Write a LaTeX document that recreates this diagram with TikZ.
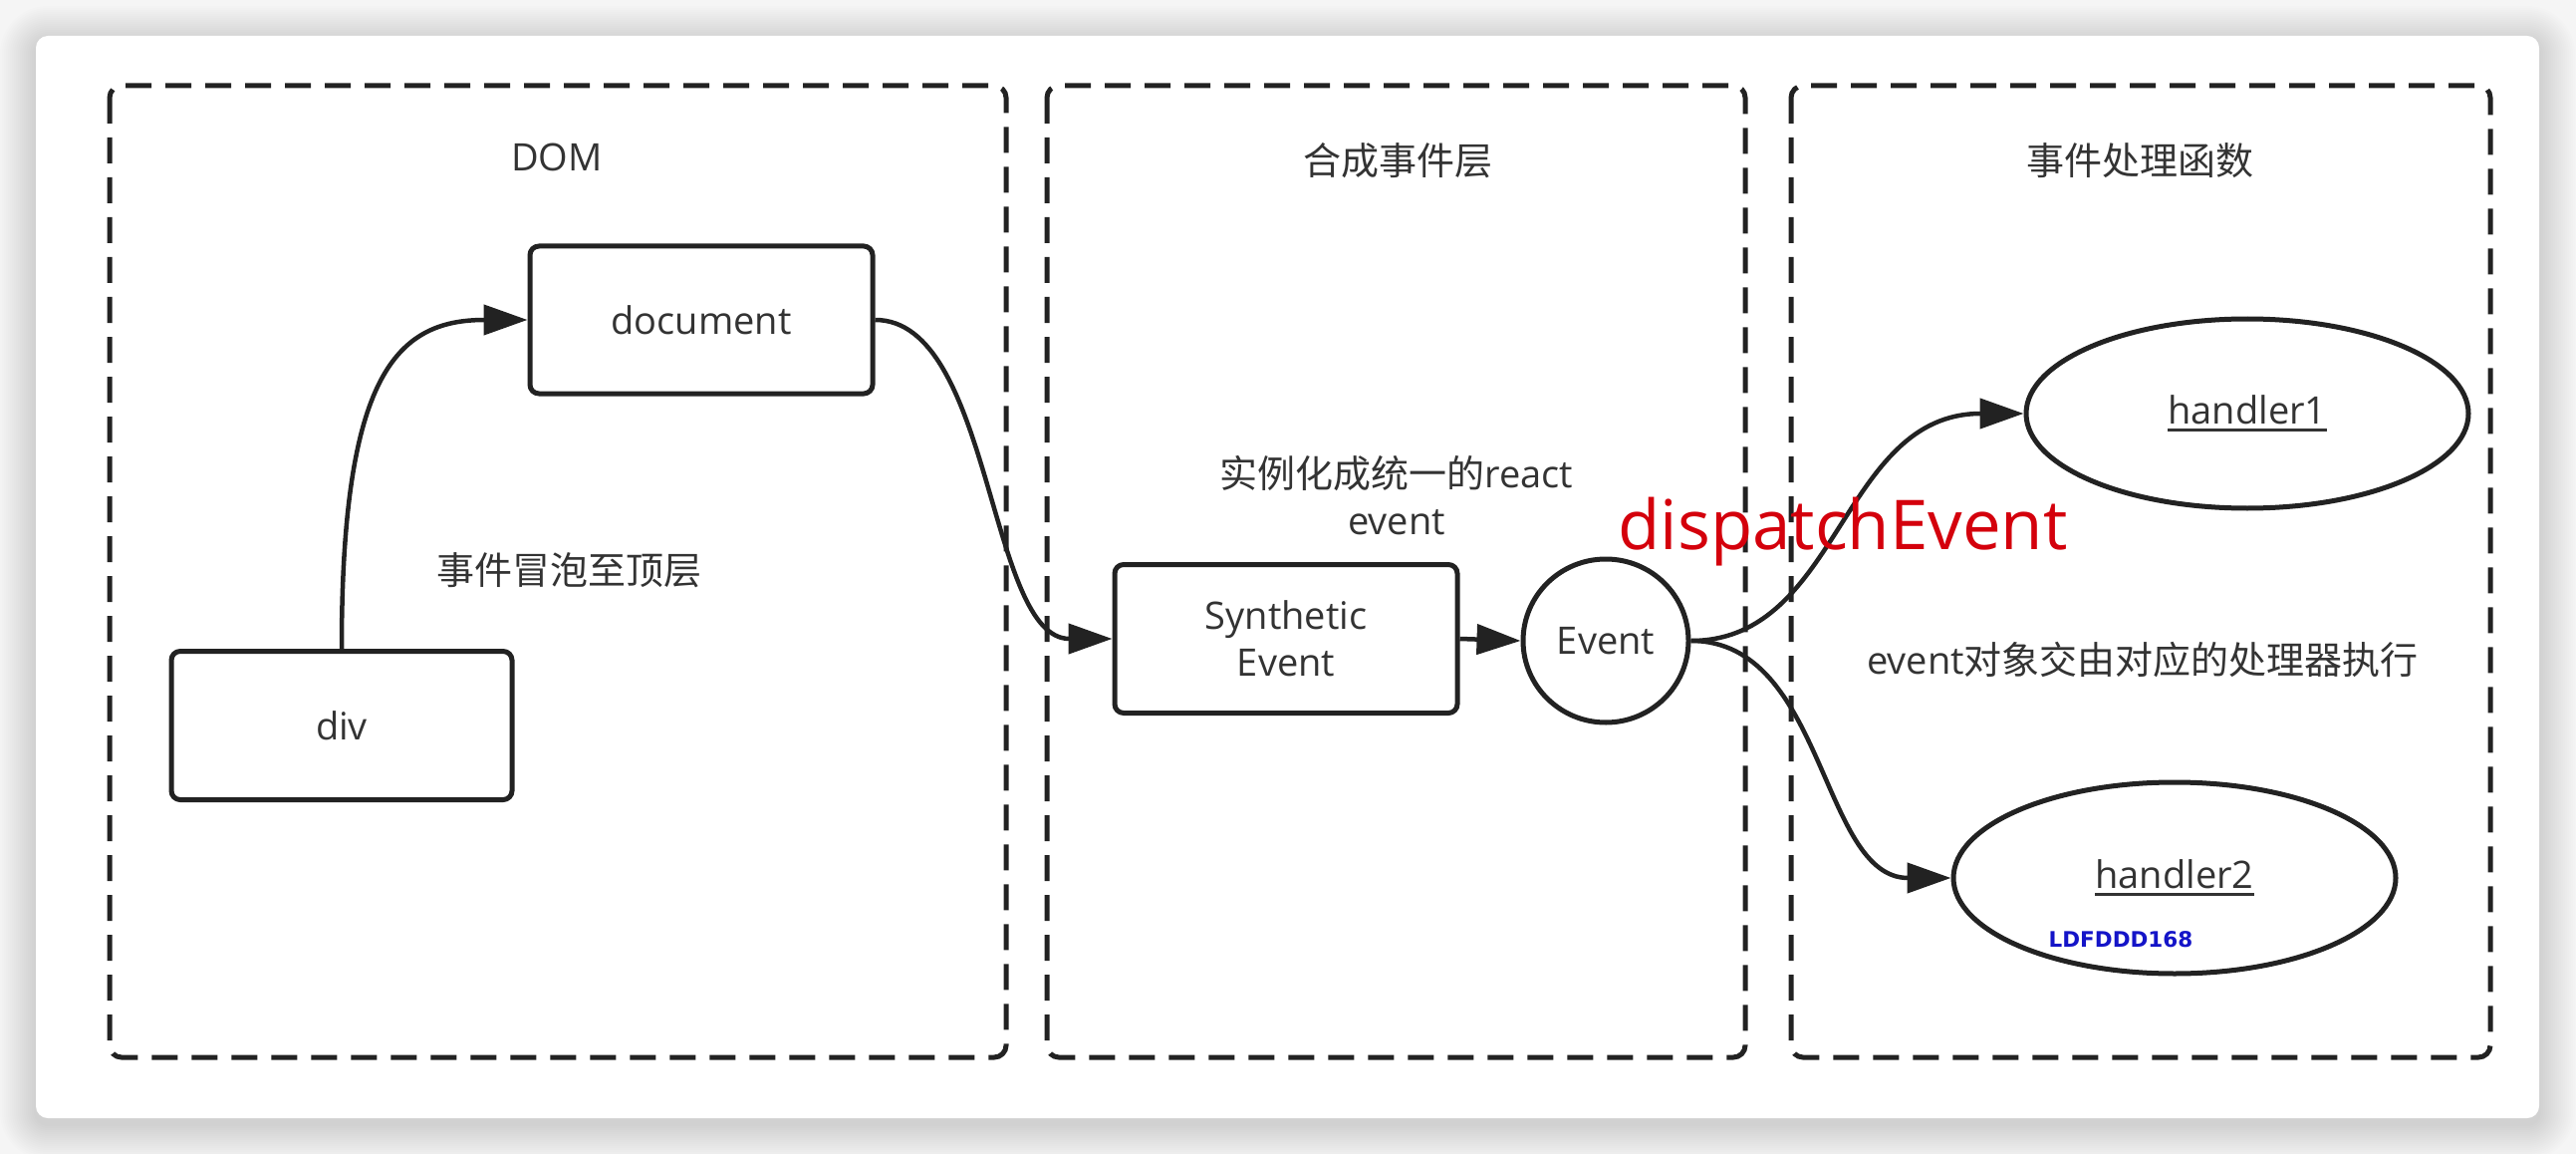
\documentclass[tikz,border=0pt]{standalone}
\usepackage{fontspec}
\setmainfont{Open Sans}
\newfontfamily\cjk{Noto Sans CJK SC}
\newfontfamily\dejavu{DejaVu Sans}
\usetikzlibrary{arrows.meta,shapes.geometric}

\definecolor{inkline}{HTML}{222222}
\definecolor{inktext}{HTML}{333333}
\definecolor{pagebg}{HTML}{F5F5F5}
\definecolor{dispred}{RGB}{212,0,12}
\definecolor{markblue}{RGB}{20,20,200}

% underlined label with a heavier rule than \underline gives
\newcommand\ulined[1]{\setbox0\hbox{#1}\rlap{\rule[-8pt]{\wd0}{3pt}}\box0}

\begin{document}
\begin{tikzpicture}[x=1pt,y=-1pt,
  lbl/.style={inner sep=0pt, text=inktext, font=\fontsize{38}{47}\selectfont},
  zone/.style={draw=inkline, line width=5pt, dash pattern=on 26pt off 14pt, rounded corners=12pt},
  boxnode/.style={draw=inkline, line width=5pt, rounded corners=9pt, fill=white, inner sep=0pt,
    text=inktext, font=\fontsize{38}{47}\selectfont, align=center},
  oval/.style={ellipse, draw=inkline, line width=5pt, fill=white, inner sep=0pt,
    text=inktext, font=\fontsize{38}{47}\selectfont},
  link/.style={draw=inkline, line width=4.5pt, -{Triangle[length=44pt,width=30pt]}},
]
\useasboundingbox (0,0) rectangle (2586,1158);
\clip (0,0) rectangle (2586,1158);

% page background, soft shadow and white card
\fill[pagebg] (0,0) rectangle (2586,1158);
\foreach \d in {2,4,...,36}
  \fill[black, opacity=0.008, rounded corners={(12+\d)*1pt}]
    ({36-\d},{42-\d}) rectangle ({2549+\d},{1128+\d});
\fill[white, rounded corners=12pt] (36,36) rectangle (2549,1122);

% the three layers
\draw[zone] (110,86) rectangle (1010,1061);
\draw[zone] (1051,86) rectangle (1752,1061);
\draw[zone] (1798,86) rectangle (2500,1061);

\node[lbl] (tdom) at (559,158) {DOM};
\node[lbl] (tsyn) at (1403,161) {\cjk 合成事件层};
\node[lbl] (thdl) at (2148,161) {\cjk 事件处理函数};

% DOM layer
\node[boxnode, minimum width=344pt, minimum height=148pt] (doc) at (704,321) {document};
\node[boxnode, minimum width=342pt, minimum height=149pt] (div) at (343,728) {div};
\node[lbl] (bubble) at (571,572) {\cjk 事件冒泡至顶层};

% synthetic event layer
\node[boxnode, minimum width=344pt, minimum height=149pt] (syn) at (1291,641) {Synthetic\\Event};
\node[oval, minimum width=166pt, minimum height=164pt] (evt) at (1612,643) {Event};
\node[lbl, align=center] (inst) at (1402,497) {{\cjk 实例化成统一的}react\\event};

% handlers
\node[oval, minimum width=444pt, minimum height=190pt] (h1) at (2256,415) {\ulined{handler1}};
\node[oval, minimum width=444pt, minimum height=192pt] (h2) at (2183,881) {\ulined{handler2}};
\node[lbl] (exec) at (2151,662) {event{\cjk 对象交由对应的处理器执行}};
\node[inner sep=0pt, text=markblue, font=\dejavu\bfseries\fontsize{21.5}{26}\selectfont] (mark) at (2129,943) {LDFDDD168};

% connectors
\draw[link] (div.north) .. controls +(0,-274) and +(-132,0) .. (doc.west);
\draw[link] (doc.east) .. controls +(118,0) and +(-125,0) .. (syn.west);
\draw[link] (syn.east) -- (evt.west);
\draw[link] (evt.east) .. controls +(150,0) and +(-184,0) .. (h1.west);
\draw[link] (evt.east) .. controls +(135,0) and +(-131,0) .. (h2.west);

\node[inner sep=0pt, text=dispred, font=\fontsize{69}{80}\selectfont, anchor=base] (disp) at (1850,551) {dispatchEvent};
\end{tikzpicture}
\end{document}
